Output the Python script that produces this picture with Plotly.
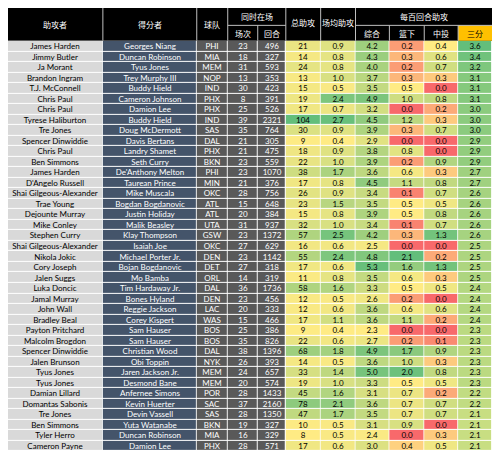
import plotly.graph_objects as go

passers = ["James Harden","Jimmy Butler","Ja Morant","Brandon Ingram","T.J. McConnell","Chris Paul","Chris Paul","Tyrese Haliburton","Tre Jones","Spencer Dinwiddie","Chris Paul","Ben Simmons","James Harden","D'Angelo Russell","Shai Gilgeous-Alexander","Trae Young","Dejounte Murray","Mike Conley","Stephen Curry","Shai Gilgeous-Alexander","Nikola Jokic","Cory Joseph","Jalen Suggs","Luka Doncic","Jamal Murray","John Wall","Bradley Beal","Payton Pritchard","Malcolm Brogdon","Spencer Dinwiddie","Jalen Brunson","Tyus Jones","Tyus Jones","Damian Lillard","Domantas Sabonis","Tre Jones","Ben Simmons","Tyler Herro","Cameron Payne"]
scorers = ["Georges Niang","Duncan Robinson","Tyus Jones","Trey Murphy III","Buddy Hield","Cameron Johnson","Damion Lee","Buddy Hield","Doug McDermott","Davis Bertans","Landry Shamet","Seth Curry","De'Anthony Melton","Taurean Prince","Mike Muscala","Bogdan Bogdanovic","Justin Holiday","Malik Beasley","Klay Thompson","Isaiah Joe","Michael Porter Jr.","Bojan Bogdanovic","Mo Bamba","Tim Hardaway Jr.","Bones Hyland","Reggie Jackson","Corey Kispert","Sam Hauser","Sam Hauser","Christian Wood","Obi Toppin","Jaren Jackson Jr.","Desmond Bane","Anfernee Simons","Kevin Huerter","Devin Vassell","Yuta Watanabe","Duncan Robinson","Damion Lee"]
teams = ["PHI","MIA","MEM","NOP","IND","PHX","PHX","IND","SAS","DAL","PHX","BKN","PHI","MIN","OKC","ATL","ATL","UTA","GSW","OKC","DEN","DET","ORL","DAL","DEN","LAC","WAS","BOS","BOS","DAL","NYK","MEM","MEM","POR","SAC","SAS","BKN","MIA","PHX"]
games = [23,18,31,13,30,8,25,39,35,21,21,23,23,21,28,15,20,31,23,27,23,27,14,36,23,20,15,25,35,38,26,24,20,28,37,28,19,16,28]
possessions = [496,327,593,353,423,391,526,2321,764,305,475,559,1070,376,756,648,384,937,1372,629,1142,318,319,1736,456,333,466,386,826,1396,393,657,574,1433,2160,1350,327,329,571]
total_ast = [21,14,24,13,15,19,17,104,30,9,18,22,38,17,26,23,15,32,57,16,55,17,11,58,12,12,17,9,22,68,14,33,19,45,78,47,10,8,17]
ast_pg = [0.9,0.8,0.8,1.0,0.5,2.4,0.7,2.7,0.9,0.4,0.9,1.0,1.7,0.8,0.9,1.5,0.8,1.0,2.5,0.6,2.4,0.6,0.8,1.6,0.5,0.6,1.1,0.4,0.6,1.8,0.5,1.4,1.0,1.6,2.1,1.7,0.5,0.5,0.6]
per100_all = [4.2,4.3,4.0,3.7,3.5,4.9,3.2,4.5,3.9,2.9,3.8,3.9,3.6,4.5,3.4,3.5,3.9,3.4,4.2,2.5,4.8,5.3,3.5,3.3,2.6,3.6,3.6,2.3,2.7,4.9,3.6,5.0,3.3,3.1,3.6,3.5,3.1,2.4,3.0]
per100_rim = [0.2,0.3,0.2,0.3,0.5,1.0,0.0,1.2,0.3,0.0,0.8,0.2,0.6,1.1,0.1,0.5,0.5,0.1,0.3,0.0,2.1,1.6,0.6,0.5,0.2,0.6,1.1,0.0,0.2,1.7,1.0,2.0,0.5,0.7,0.7,0.7,0.9,0.0,0.4]
per100_mid = [0.4,0.6,0.7,0.3,0.0,0.8,0.2,0.3,0.7,0.0,0.0,0.9,0.3,0.8,0.7,0.5,0.8,0.7,1.3,0.0,0.2,1.3,0.3,0.5,0.0,0.6,0.2,0.0,0.1,0.9,0.3,0.8,0.5,0.2,0.7,0.7,0.0,0.3,0.5]
per100_3 = [3.6,3.4,3.2,3.1,3.1,3.1,3.0,3.0,3.0,2.9,2.9,2.9,2.7,2.7,2.6,2.6,2.6,2.6,2.6,2.5,2.5,2.5,2.5,2.4,2.4,2.4,2.4,2.3,2.3,2.3,2.3,2.3,2.3,2.2,2.2,2.1,2.1,2.1,2.1]

W, H = 500, 460
HEAD = 34
ROWH = 10.9
widths = [98, 97, 32, 31, 29, 36, 36, 35, 36, 35, 35]
n = len(passers)
xs = [0]
for w in widths:
    xs.append(xs[-1] + w)
yedges = [HEAD + i * ROWH for i in range(n + 1)]

RED, YEL, GRN, LGRN = "#f8696b", "#ffeb84", "#63be7b", "#c8de82"
FONT = "Lato, Liberation Sans"

def const(c):
    return [[0, c], [1, c]]

columns = [
    (passers, None, const("#d9d9d9"), 0, 1, "black"),
    (scorers, None, const("#44546a"), 0, 1, "white"),
    (teams, None, const("#595959"), 0, 1, "white"),
    (games, "{}", const("#595959"), 0, 1, "white"),
    (possessions, "{}", const("#595959"), 0, 1, "white"),
    (total_ast, "{}", [[0, YEL], [1, GRN]], 8, 104, "black"),
    (ast_pg, "{:.1f}", [[0, YEL], [1, GRN]], 0.4, 2.8, "black"),
    (per100_all, "{:.1f}", [[0, YEL], [1, GRN]], 2.3, 5.4, "black"),
    (per100_rim, "{:.1f}", [[0, RED], [0.5 / 2.1, YEL], [1, GRN]], 0, 2.1, "black"),
    (per100_mid, "{:.1f}", [[0, RED], [0.4 / 1.4, YEL], [1, GRN]], 0, 1.4, "black"),
    (per100_3, "{:.1f}", [[0, LGRN], [1, GRN]], 2.1, 3.6, "black"),
]

fig = go.Figure()
for i, (vals, fmt, cs, lo, hi, fc) in enumerate(columns):
    if fmt is None:
        z = [[0] for _ in vals]
        txt = [[v] for v in vals]
    else:
        z = [[v] for v in vals]
        txt = [[fmt.format(v)] for v in vals]
    fig.add_trace(go.Heatmap(
        x=[xs[i], xs[i + 1]], y=yedges, z=z, text=txt, texttemplate="%{text}",
        textfont=dict(family=FONT, size=8, color=fc),
        colorscale=cs, zmin=lo, zmax=hi, showscale=False, xgap=1, ygap=1, hoverinfo="skip"))

shapes = [dict(type="rect", x0=0, x1=W, y0=0, y1=HEAD, fillcolor="black", line=dict(width=0), layer="below"),
          dict(type="rect", x0=xs[10], x1=W, y0=18, y1=HEAD, fillcolor="#ffc000", line=dict(width=0))]
for i in [1, 2, 3, 5, 6, 7]:
    shapes.append(dict(type="line", x0=xs[i], x1=xs[i], y0=0, y1=HEAD, line=dict(color="#bfbfbf", width=1)))
for i in [4, 8, 9, 10]:
    shapes.append(dict(type="line", x0=xs[i], x1=xs[i], y0=18, y1=HEAD, line=dict(color="#bfbfbf", width=1)))
for a, b in [(3, 5), (7, 11)]:
    shapes.append(dict(type="line", x0=xs[a], x1=xs[b], y0=18, y1=18, line=dict(color="#bfbfbf", width=1)))

ann = []
def label(text, c0, c1, y, color="white"):
    ann.append(dict(text=text, x=(xs[c0] + xs[c1]) / 2, y=y, showarrow=False,
                    font=dict(family="Noto Sans CJK SC", size=8, color=color)))

label("助攻者", 0, 1, 17)
label("得分者", 1, 2, 17)
label("球队", 2, 3, 17)
label("同时在场", 3, 5, 9)
label("场次", 3, 4, 26)
label("回合", 4, 5, 26)
label("总助攻", 5, 6, 15)
label("场均助攻", 6, 7, 15)
label("每百回合助攻", 7, 11, 9)
label("综合", 7, 8, 26)
label("篮下", 8, 9, 26)
label("中投", 9, 10, 26)
label("三分", 10, 11, 26, "black")

fig.update_layout(autosize=True, margin=dict(l=0, r=0, t=0, b=0),
                  paper_bgcolor="white", plot_bgcolor="white", shapes=shapes, annotations=ann,
                  xaxis=dict(range=[0, W], visible=False, fixedrange=True),
                  yaxis=dict(range=[H, 0], visible=False, fixedrange=True))
fig.write_html("out.html", config={"displayModeBar": False})
